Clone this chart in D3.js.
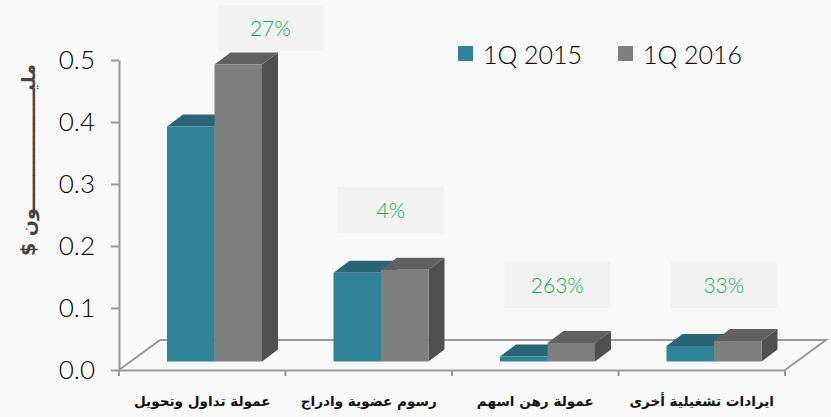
<!DOCTYPE html>
<html>
<head>
<meta charset="utf-8">
<script src="https://cdn.jsdelivr.net/npm/d3@7/dist/d3.min.js"></script>
<style>
  html, body { margin: 0; padding: 0; background: #f9f9f9; }
  svg { display: block; }
  .axis path, .axis line { stroke: #999; stroke-width: 2; }
  .tick-label { font-family: Lato, "Open Sans", sans-serif; font-weight: 300; fill: #000; }
</style>
</head>
<body>
<svg id="chart" width="831" height="417"></svg>
<script>
var categories = ['عمولة تداول وتحويل', 'رسوم عضوية وادراج', 'عمولة رهن اسهم', 'ايرادات تشغيلية أخرى'];
var seriesNames = ['1Q 2015', '1Q 2016'];
var values2015 = [0.379, 0.143, 0.008, 0.025];
var values2016 = [0.479, 0.148, 0.030, 0.033];
var growthLabels = ['27%', '4%', '263%', '33%'];
var yTicks = [0, 0.1, 0.2, 0.3, 0.4, 0.5];
var yTitle = 'مليــــــــــــــــــون $';

var faces = [
    {front: '#318399', top: '#2a6577', side: '#24505e'},
    {front: '#7f7f7f', top: '#606060', side: '#505050'}
];

var svg = d3.select('#chart');
var depthX = 16, depthY = 12;   //3D offset of the bars
var floorX = 41, floorY = 30;   //3D offset of the floor
var baseGap = 8.5;              //Bars stand this far above the front edge of the floor

var y = d3.scaleLinear().domain([0, 0.5]).range([370, 60]);
var x = d3.scaleBand().domain(categories).range([119, 785]);
var inner = d3.scaleBand().domain(seriesNames).range([48, 143]);

var left = x.range()[0], right = x.range()[1], floorTop = y(0) - floorY;

//Floor
svg.append('polyline')
    .attr('points', [[left, y(0)], [left + floorX, floorTop], [right + floorX, floorTop], [right, y(0)]].join(' '))
    .attr('fill', 'none')
    .attr('stroke', '#999')
    .attr('stroke-width', 2);

//Growth label boxes sit behind the text, placed by hand like the original slide
var boxTops = [5, 187, 262, 262];
var boxShift = [68, 22, 22, 22];
var boxW = 106, boxH = 46;

var labelGroups = svg.selectAll('.growth')
    .data(categories)
    .enter()
    .append('g')
    .attr('class', 'growth')
    .attr('transform', function(d, i) {
        return 'translate(' + (x(d) + x.bandwidth() / 2 + boxShift[i]) + ',' + boxTops[i] + ')';
    });

labelGroups.append('rect')
    .attr('x', -boxW / 2)
    .attr('width', boxW)
    .attr('height', boxH)
    .attr('fill', '#f2f2f2');

labelGroups.append('text')
    .attr('y', 31)
    .attr('text-anchor', 'middle')
    .attr('font-family', 'Lato, "Open Sans", sans-serif')
    .attr('font-weight', 300)
    .attr('font-size', 21)
    .attr('fill', '#00b050')
    .text(function(d, i) { return growthLabels[i]; });

//Bars, first series first so the second one overlaps its top
[values2015, values2016].forEach(function(values, s) {
    var name = seriesNames[s];
    var bars = svg.selectAll('.bar' + s)
        .data(values)
        .enter()
        .append('g')
        .attr('class', 'bar' + s);

    function x0(i) { return x(categories[i]) + inner(name); }
    function x1(i) { return x0(i) + inner.bandwidth(); }
    function top(d) { return y(d) - baseGap; }
    var bottom = y(0) - baseGap;

    bars.append('polygon')
        .attr('fill', faces[s].side)
        .attr('points', function(d, i) {
            return [[x1(i), top(d)], [x1(i) + depthX, top(d) - depthY], [x1(i) + depthX, bottom - depthY], [x1(i), bottom]].join(' ');
        });

    bars.append('polygon')
        .attr('fill', faces[s].top)
        .attr('points', function(d, i) {
            return [[x0(i), top(d)], [x0(i) + depthX, top(d) - depthY], [x1(i) + depthX, top(d) - depthY], [x1(i), top(d)]].join(' ');
        });

    bars.append('rect')
        .attr('fill', faces[s].front)
        .attr('x', function(d, i) { return x0(i); })
        .attr('y', top)
        .attr('width', inner.bandwidth())
        .attr('height', function(d) { return bottom - top(d); });
});

//Y axis
var yAxis = d3.axisLeft(y).tickValues(yTicks).tickFormat(d3.format('.1f')).tickSize(8).tickSizeOuter(0);
var yGroup = svg.append('g')
    .attr('class', 'axis')
    .attr('transform', 'translate(' + left + ',0)')
    .call(yAxis);
yGroup.selectAll('text')
    .attr('class', 'tick-label')
    .attr('font-size', 26)
    .attr('x', -24);

//X axis: labels from the band centres, ticks on the band edges
var xAxis = d3.axisBottom(x).tickSize(0).tickSizeOuter(0);
var xGroup = svg.append('g')
    .attr('class', 'axis')
    .attr('transform', 'translate(0,' + y(0) + ')')
    .call(xAxis);
xGroup.selectAll('text')
    .attr('y', 26)
    .attr('font-family', '"DejaVu Sans", sans-serif')
    .attr('font-weight', 'bold')
    .attr('font-size', 13.6)
    .attr('fill', '#111');
xGroup.selectAll('.edge')
    .data(categories.concat(['end']))
    .enter()
    .append('line')
    .attr('class', 'edge')
    .attr('x1', function(d, i) { return left + i * x.step(); })
    .attr('x2', function(d, i) { return left + i * x.step(); })
    .attr('y1', 0)
    .attr('y2', 6);

//Y axis title
svg.append('text')
    .attr('transform', 'translate(35,160) rotate(-90)')
    .attr('text-anchor', 'middle')
    .attr('direction', 'rtl')
    .attr('font-family', '"DejaVu Sans", sans-serif')
    .attr('font-weight', 'bold')
    .attr('font-size', 19)
    .attr('fill', '#444')
    .text(yTitle);

//Legend
var legendX = d3.scaleOrdinal().domain(seriesNames).range([458, 618]);
var legend = svg.selectAll('.legend')
    .data(seriesNames)
    .enter()
    .append('g')
    .attr('class', 'legend')
    .attr('transform', function(d) { return 'translate(' + legendX(d) + ',46)'; });
legend.append('rect')
    .attr('width', 15)
    .attr('height', 15)
    .attr('fill', function(d, i) { return faces[i].front; });
legend.append('text')
    .attr('class', 'tick-label')
    .attr('x', 25)
    .attr('y', 18)
    .attr('font-size', 25)
    .text(function(d) { return d; });
</script>
</body>
</html>
